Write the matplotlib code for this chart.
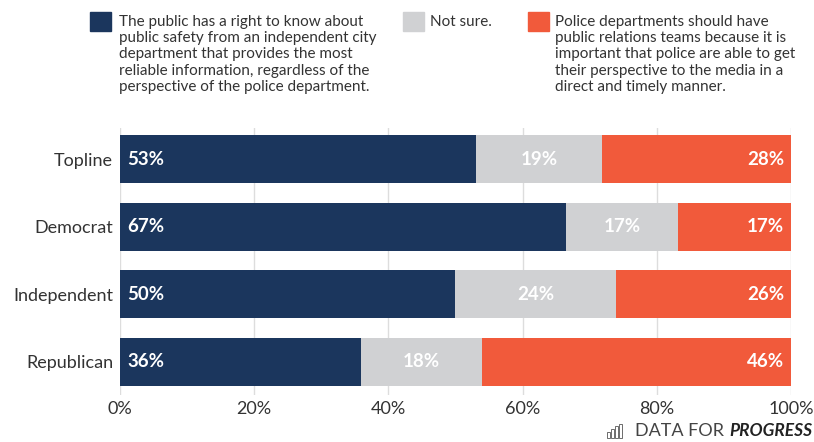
import matplotlib.pyplot as plt
from matplotlib.patches import Rectangle
import numpy as np

plt.rcParams['font.family'] = ['Lato', 'DejaVu Sans']

groups = ["Topline", "Democrat", "Independent", "Republican"]
public_right = [53.0, 66.5, 49.9, 35.9]
not_sure = [18.9, 16.7, 24.0, 18.0]
police_pr = [28.1, 16.8, 26.1, 46.1]
lbl_public = ["53%", "67%", "50%", "36%"]
lbl_unsure = ["19%", "17%", "24%", "18%"]
lbl_police = ["28%", "17%", "26%", "46%"]

legend_txt = [
    "The public has a right to know about\npublic safety from an independent city\ndepartment that provides the most\nreliable information, regardless of the\nperspective of the police department.",
    "Not sure.",
    "Police departments should have\npublic relations teams because it is\nimportant that police are able to get\ntheir perspective to the media in a\ndirect and timely manner.",
]

navy = "#1b365d"
grey = "#d0d1d3"
orange = "#f15a3b"
txt = "#333333"

fig = plt.figure(figsize=(8.14, 4.42), dpi=100)
ax = fig.add_axes([120/814, 1-395/442, 671/814, 267/442])

y = np.arange(len(groups))
h = 0.71
left2 = np.array(public_right)
left3 = left2 + np.array(not_sure)
ax.barh(y, public_right, height=h, color=navy, zorder=2)
ax.barh(y, not_sure, left=left2, height=h, color=grey, zorder=2)
ax.barh(y, police_pr, left=left3, height=h, color=orange, zorder=2)

fs = 13.5
for i in range(len(groups)):
    ax.text(1.1, y[i], lbl_public[i], color="white", fontsize=fs, fontweight="bold",
            va="center", ha="left", zorder=3)
    ax.text(left2[i] + not_sure[i]/2, y[i], lbl_unsure[i], color="white", fontsize=fs,
            fontweight="bold", va="center", ha="center", zorder=3)
    ax.text(99, y[i], lbl_police[i], color="white", fontsize=fs, fontweight="bold",
            va="center", ha="right", zorder=3)

ax.set_xlim(0, 100)
ax.set_ylim(3.49, -0.46)
ax.set_xticks([0, 20, 40, 60, 80, 100])
ax.set_xticklabels(["0%", "20%", "40%", "60%", "80%", "100%"])
ax.set_yticks(y)
ax.set_yticklabels(groups)
ax.tick_params(axis="both", length=0, labelcolor=txt)
ax.tick_params(axis="x", labelsize=13, pad=4)
ax.tick_params(axis="y", labelsize=13, pad=5)
ax.grid(axis="x", color="#dddddd", linewidth=1, zorder=0)
for s in ax.spines.values():
    s.set_visible(False)

# legend
sq = [(90, navy, 119), (403, grey, 430), (528, orange, 555)]
for (x0, c, tx), t in zip(sq, legend_txt):
    fig.patches.append(Rectangle((x0/814, 1-31/442), 21/814, 19/442, color=c,
                                 transform=fig.transFigure, figure=fig))
    fig.text(tx/814, 1-15/442, t, fontsize=11, color=txt, va="top", ha="left",
             linespacing=1.2)

# logo
for bx, bh in [(607, 6), (611, 9), (615, 12), (619, 14)]:
    fig.patches.append(Rectangle((bx/814, 1-438/442), 3/814, bh/442, fill=False,
                                 edgecolor="#555555", linewidth=0.6,
                                 transform=fig.transFigure, figure=fig))
fig.text(724/814, 1-431/442, "DATA FOR", fontsize=13, color="#444444", va="center",
         ha="right")
fig.text(812/814, 1-431/442, "PROGRESS", fontsize=12.5, color="#222222", va="center",
         ha="right", fontweight="bold", style="italic")

fig.savefig("out.png", dpi=100)
